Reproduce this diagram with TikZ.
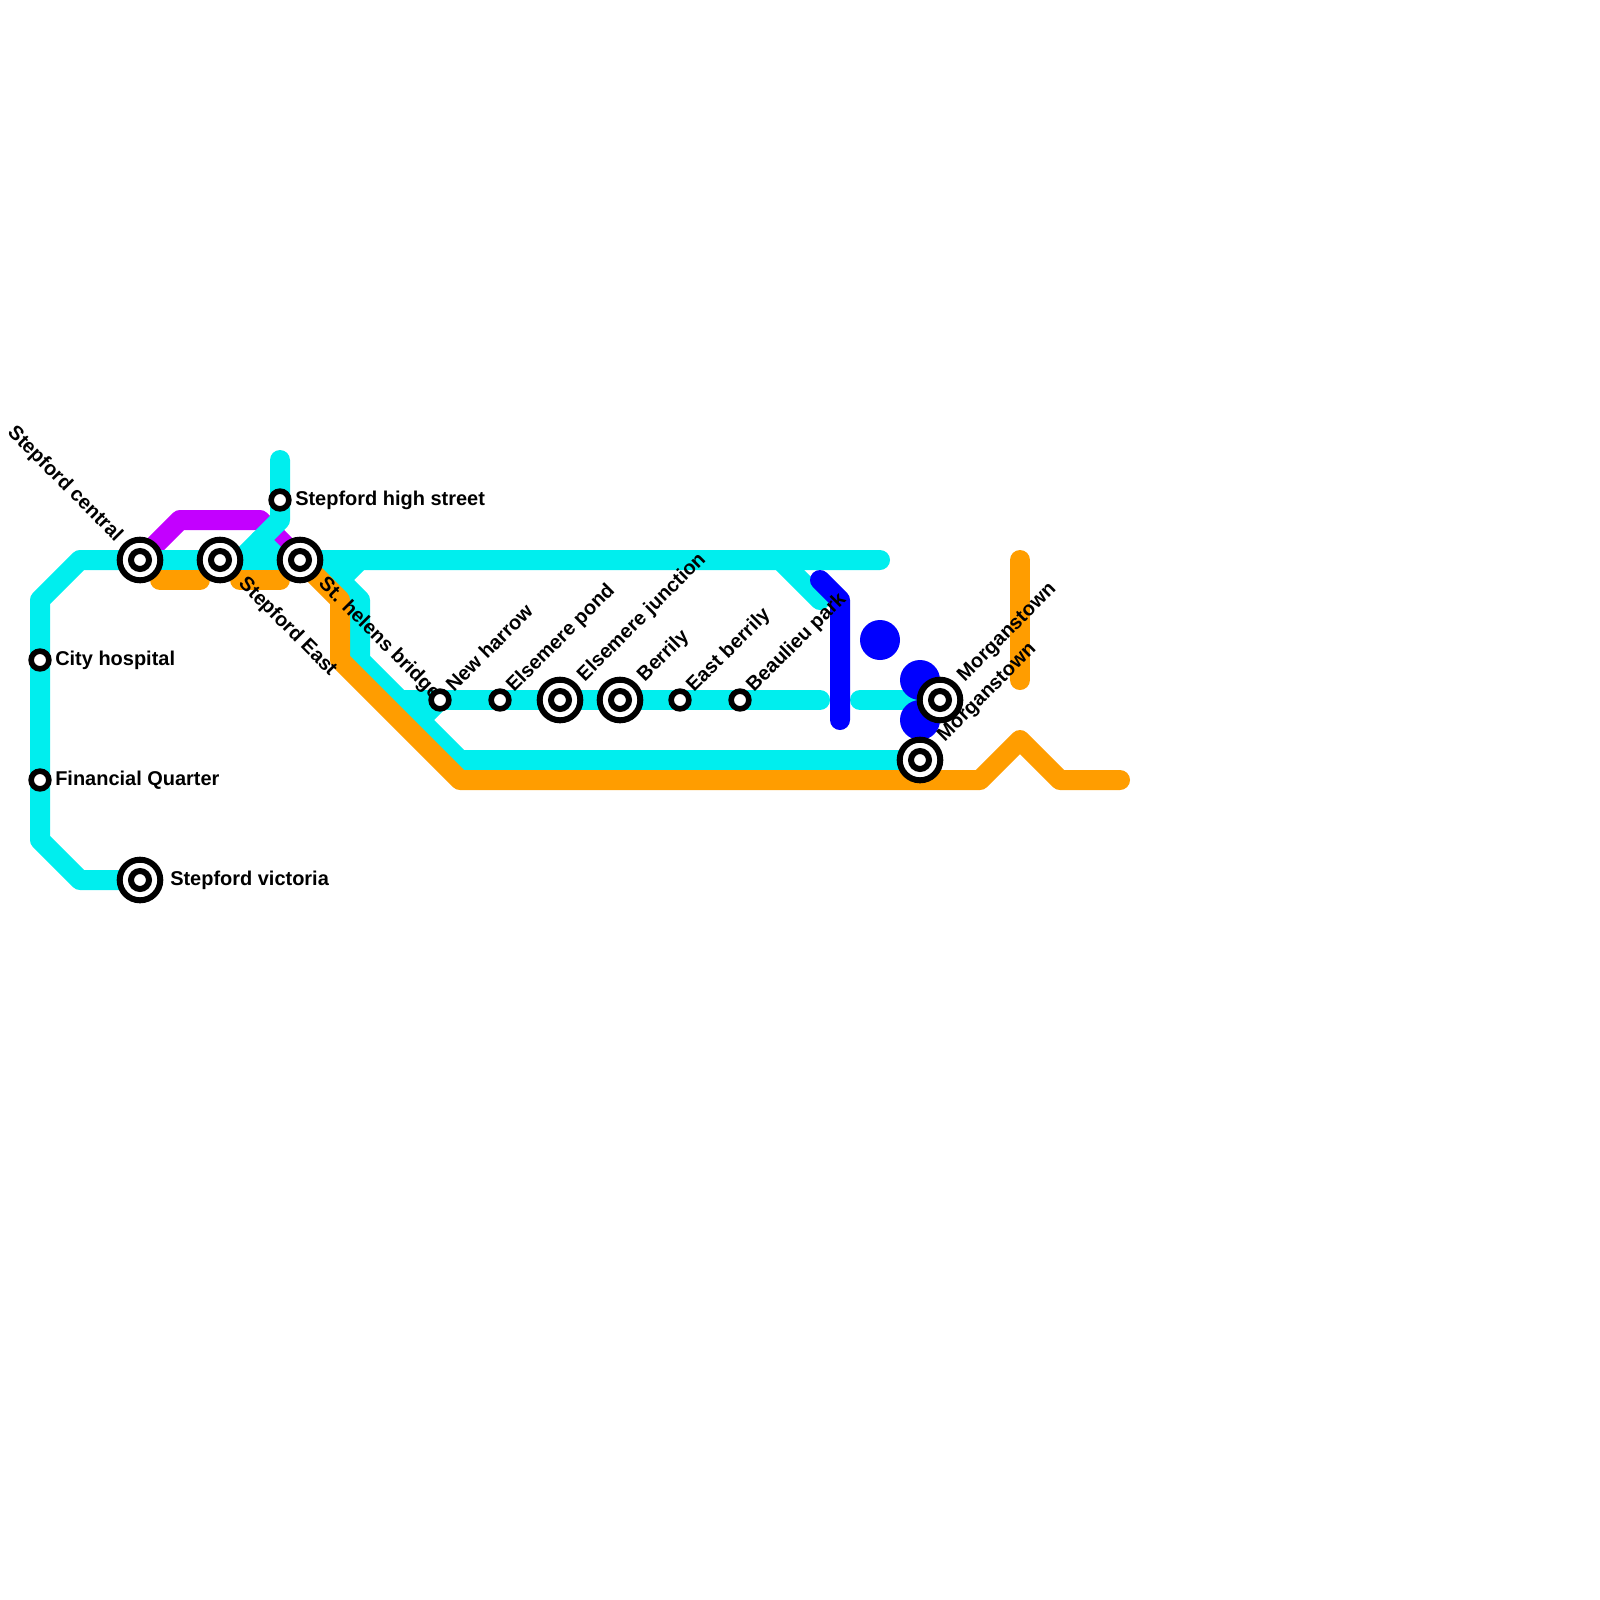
\documentclass[tikz,border=0pt]{standalone}
\usepackage{fontspec}
\setmainfont{Liberation Sans}
\usetikzlibrary{backgrounds}
\definecolor{LineCyan}{HTML}{00EEEE}
\definecolor{LineOrange}{HTML}{FF9D00}
\definecolor{LinePurple}{HTML}{C300FF}
\definecolor{LineBlue}{HTML}{0000FF}
\tikzset{
  metroline/.style={line width=5mm,line cap=round,line join=round},
  stopnode/.style={circle,draw=black,fill=white,line width=1.4mm,minimum size=4.43mm,inner sep=0pt,outer sep=0pt},
  hubnode/.style={circle,draw=black,fill=white,line width=1.5mm,minimum size=10.15mm,inner sep=0pt,outer sep=0pt},
  hubcore/.style={circle,draw=black,fill=white,line width=1.5mm,minimum size=4.5mm,inner sep=0pt,outer sep=0pt},
  dotnode/.style={circle,fill=LineBlue,minimum size=10mm,inner sep=0pt,outer sep=0pt},
  namelabel/.style={inner sep=0pt,font=\fontsize{14.2}{17}\selectfont\bfseries},
  flatlabel/.style={namelabel,anchor=base west},
  uplabel/.style={namelabel,anchor=base west,rotate=45},
  downlabel/.style={namelabel,anchor=base west,rotate=-45},
  backlabel/.style={namelabel,anchor=base east,rotate=-45}
}
\begin{document}
\begin{tikzpicture}[x=5mm,y=-5mm]
\useasboundingbox (0,0) rectangle (80,80);
% labels
\node[flatlabel] (lblHospital) at (2.75,33.25) {City hospital};
\node[flatlabel] (lblFinancial) at (2.75,39.25) {Financial Quarter};
\node[flatlabel] (lblVictoria) at (8.5,44.25) {Stepford victoria};
\node[flatlabel] (lblHigh) at (14.75,25.25) {Stepford high street};
\node[backlabel] (lblCentral) at (5.765,27.115) {Stepford central};
\node[downlabel] (lblEast) at (11.885,29.235) {Stepford East};
\node[downlabel] (lblHelens) at (15.885,29.235) {St. helens bridge};
\node[uplabel] (lblHarrow) at (22.7,34.65) {New harrow};
\node[uplabel] (lblPond) at (25.7,34.65) {Elsemere pond};
\node[uplabel] (lblJunction) at (29.235,34.115) {Elsemere junction};
\node[uplabel] (lblBerrily) at (32.235,34.115) {Berrily};
\node[uplabel] (lblEastB) at (34.7,34.65) {East berrily};
\node[uplabel] (lblBeaulieu) at (37.7,34.65) {Beaulieu park};
\node[uplabel] (lblMorganA) at (48.235,34.115) {Morganstown};
\node[uplabel] (lblMorganB) at (47.235,37.115) {Morganstown};
% stations
\foreach \nm/\px/\py in {hospital/2/33,financial/2/39,high/14/25,harrow/22/35,pond/25/35,eastberrily/34/35,beaulieu/37/35}{
  \node[stopnode] (\nm) at (\px,\py) {};
}
\foreach \nm/\px/\py in {victoria/7/44,central/7/28,east/11/28,helens/15/28,junction/28/35,berrily/31/35,morganA/47/35,morganB/46/38}{
  \node[hubnode] (\nm) at (\px,\py) {};
  \node[hubcore] (\nm core) at (\px,\py) {};
}
\begin{pgfonlayer}{background}
% purple
\draw[metroline,draw=LinePurple] (central.center) -- (9,26) -- (13,26) -- (helens.center);
% cyan
\draw[metroline,draw=LineCyan] (victoria.center) -- (4,44) -- (2,42) -- (financial.center) -- (hospital.center) -- (2,30) -- (4,28) -- (central.center) -- (east.center) -- (helens.center) -- (44,28);
\draw[metroline,draw=LineCyan] (14,23) -- (high.center) -- (14,26) -- (12,28);
\draw[metroline,draw=LineCyan] (13,27) -- (14,28);
\draw[metroline,draw=LineCyan] (16,28) -- (18,30) -- (18,33) -- (23,38) -- (morganB.center);
\draw[metroline,draw=LineCyan] (18,28) -- (17,29);
\draw[metroline,draw=LineCyan] (20,35) -- (harrow.center) -- (pond.center) -- (junction.center) -- (berrily.center) -- (eastberrily.center) -- (beaulieu.center) -- (41,35);
\draw[metroline,draw=LineCyan] (harrow.center) -- (21,36);
\draw[metroline,draw=LineCyan] (43,35) -- (morganA.center);
\draw[metroline,draw=LineCyan] (39,28) -- (41,30);
% orange
\draw[metroline,draw=LineOrange] (8,29) -- (10,29);
\draw[metroline,draw=LineOrange] (12,29) -- (14,29);
\draw[metroline,draw=LineOrange] (helens.center) -- (17,30) -- (17,33) -- (23,39) -- (49,39) -- (51,37) -- (53,39) -- (56,39);
\draw[metroline,draw=LineOrange] (51,28) -- (51,34);
% blue
\draw[metroline,draw=LineBlue] (41,29) -- (42,30) -- (42,36);
\node[dotnode] (dotA) at (44,32) {};
\node[dotnode] (dotB) at (46,34) {};
\node[dotnode] (dotC) at (46,36) {};
\end{pgfonlayer}
\end{tikzpicture}
\end{document}
